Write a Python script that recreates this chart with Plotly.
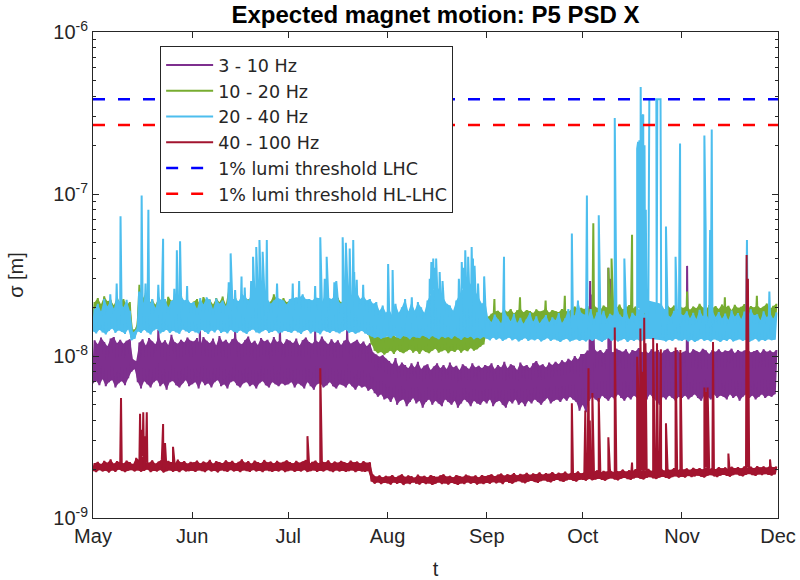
import datetime as dt
import plotly.graph_objects as go

START = dt.datetime(2018, 5, 1)
END = dt.datetime(2018, 12, 1)

# Daily readings in nm: *_lo taken at 00:00, *_hi at 12:00 (May 1 .. Nov 30).
# One row per month: May, Jun, Jul, Aug, Sep, Oct, Nov.
purple_lo = [
    6.8, 7.0, 6.6, 7.2, 6.5, 6.9, 7.1, 6.4, 6.8, 7.0, 6.6, 7.3, 8.0, 8.3, 6.9, 6.3, 7.0, 6.7, 6.4, 6.9, 7.1, 6.5, 6.8, 6.2, 6.9, 7.0, 6.6, 6.4, 6.8, 7.1, 6.5,
    6.7, 6.9, 6.3, 7.0, 6.6, 6.8, 6.4, 6.9, 7.1, 6.5, 6.7, 6.3, 6.9, 7.0, 6.6, 6.4, 6.8, 6.9, 6.5, 6.7, 6.3, 6.8, 7.0, 6.6, 6.4, 6.9, 6.7, 6.5, 6.8, 6.6,
    6.7, 6.9, 6.4, 6.8, 6.6, 6.3, 6.9, 6.5, 6.2, 6.7, 6.8, 6.4, 6.6, 6.9, 6.5, 6.3, 6.7, 6.6, 6.4, 6.8, 6.5, 6.2, 6.6, 6.4, 6.5, 6.1, 6.3, 5.9, 5.6, 5.8, 5.4,
    5.5, 5.2, 5.6, 5.0, 5.3, 5.4, 4.9, 5.2, 5.5, 5.1, 5.3, 4.8, 5.2, 5.4, 5.0, 5.3, 5.1, 4.9, 5.4, 5.2, 5.0, 5.3, 4.8, 5.1, 5.4, 5.2, 4.9, 5.3, 5.1, 5.0, 5.3,
    5.1, 5.4, 4.9, 5.2, 5.3, 5.0, 4.8, 5.3, 5.1, 5.4, 5.0, 5.2, 4.9, 5.3, 5.1, 5.4, 5.2, 5.0, 5.3, 5.5, 5.1, 5.3, 5.4, 5.2, 5.5, 5.3, 5.6, 5.4, 5.2, 4.6,
    5.0, 4.5, 5.3, 5.6, 5.4, 5.2, 5.7, 5.5, 5.3, 5.6, 5.4, 5.8, 5.5, 5.3, 5.6, 5.4, 5.7, 5.5, 5.2, 5.6, 5.4, 5.8, 5.5, 5.3, 5.0, 5.6, 5.4, 5.7, 5.5, 5.3, 5.6,
    5.5, 5.7, 5.4, 5.6, 5.8, 5.5, 5.3, 5.7, 5.6, 5.4, 5.8, 5.5, 5.7, 5.6, 5.4, 5.8, 5.5, 5.7, 5.3, 5.6, 5.8, 5.5, 5.7, 5.4, 5.6, 5.8, 5.5, 5.7, 5.6, 5.8,
]
purple_hi = [
    12.5, 11.8, 13.0, 12.2, 11.5, 12.8, 13.1, 12.0, 12.6, 11.9, 12.4, 12.7, 9.5, 9.3, 12.1, 12.7, 11.6, 12.9, 12.3, 11.8, 13.2, 12.0, 12.5, 11.7, 13.5, 12.2, 11.9, 12.6, 12.1, 13.0, 12.4,
    12.3, 12.9, 11.7, 13.1, 12.4, 12.0, 12.8, 11.6, 13.3, 12.2, 12.6, 11.9, 12.7, 13.0, 12.1, 11.8, 12.5, 13.2, 12.0, 12.4, 11.7, 12.9, 12.3, 12.6, 11.9, 13.1, 12.2, 12.5, 11.8, 12.7,
    12.4, 12.0, 12.8, 11.6, 12.5, 13.0, 12.2, 11.9, 12.6, 12.1, 13.2, 12.3, 11.8, 12.7, 12.0, 12.5, 11.7, 12.4, 12.8, 11.9, 12.2, 12.6, 11.8, 12.3, 11.5, 12.0, 10.5, 10.2, 9.9, 10.1, 9.6,
    9.3, 8.9, 9.7, 8.6, 9.1, 8.8, 8.4, 9.0, 8.5, 9.2, 8.3, 8.7, 8.9, 8.2, 8.6, 9.0, 8.4, 8.8, 8.3, 9.1, 8.5, 8.7, 8.2, 8.9, 8.6, 8.3, 9.0, 8.5, 8.7, 8.4, 8.8,
    8.6, 9.0, 8.3, 8.8, 8.5, 9.2, 8.4, 8.9, 8.7, 8.2, 9.1, 8.6, 8.8, 8.4, 9.0, 9.3, 8.7, 8.9, 8.5, 9.1, 8.8, 9.2, 8.9, 9.4, 9.1, 9.6, 9.3, 10.0, 9.5, 10.3,
    10.3, 10.8, 10.5, 11.2, 10.6, 10.9, 10.4, 11.0, 10.7, 10.5, 11.1, 10.8, 10.6, 11.0, 10.3, 10.9, 10.7, 11.2, 10.5, 10.8, 10.4, 11.0, 10.6, 10.9, 10.3, 10.8, 11.1, 10.5, 10.7, 10.9, 10.4,
    10.6, 10.9, 10.4, 11.0, 10.7, 10.5, 11.1, 10.8, 10.3, 10.9, 10.6, 11.0, 10.5, 10.8, 10.7, 11.1, 10.4, 10.9, 10.6, 10.8, 11.0, 10.5, 10.7, 10.9, 10.4, 11.0, 10.6, 10.8, 10.5, 10.9,
]
purple_spike_day = [20.4, 33.4, 44.4, 58.4, 69.4, 79.4, 155.3, 156.0, 161.0, 161.5, 185.6]
purple_spike_nm = [14.5, 14.8, 14.2, 14.6, 14.3, 14.9, 29, 24, 35, 30, 36]

green_lo = [
    15.5, 16.0, 15.2, 15.8, 16.3, 15.6, 15.9, 15.4, 16.1, 15.7, 15.3, 15.8, 13.0, 13.2, 15.6, 16.0, 15.4, 15.9, 15.5, 16.2, 15.7, 15.3, 15.8, 16.0, 15.5, 15.9, 15.2, 15.7, 16.1, 15.4, 15.8,
    15.6, 15.9, 15.3, 16.0, 15.5, 15.8, 15.2, 15.7, 16.1, 15.4, 15.9, 15.6, 15.3, 15.8, 16.0, 15.5, 15.7, 15.2, 15.9, 15.6, 15.4, 15.8, 16.1, 15.5, 15.7, 15.3, 15.9, 15.6, 15.4, 15.8,
    15.5, 15.8, 15.3, 15.9, 15.6, 15.2, 15.7, 16.0, 15.4, 15.8, 15.5, 15.3, 15.9, 15.6, 15.2, 15.7, 15.4, 15.8, 15.5, 15.1, 15.6, 15.3, 14.9, 15.2, 14.6, 13.5, 11.8, 10.8, 10.4, 10.6, 10.2,
    10.5, 10.8, 10.3, 10.9, 10.6, 10.4, 10.7, 11.0, 10.5, 10.8, 10.3, 10.9, 10.6, 10.4, 10.8, 11.1, 10.5, 10.7, 10.9, 10.4, 10.8, 10.6, 11.0, 10.5, 10.9, 10.7, 11.2, 10.8, 11.0, 11.4, 11.8,
    13.5, 14.2, 14.8, 15.0, 14.6, 15.2, 14.9, 15.3, 14.7, 15.1, 15.4, 14.8, 15.2, 15.0, 14.6, 15.3, 14.9, 15.1, 15.5, 14.8, 15.2, 15.0, 14.7, 15.4, 15.1, 14.9, 15.3, 15.6, 15.0, 15.2,
    15.0, 15.3, 14.8, 15.4, 15.1, 14.9, 15.5, 15.2, 14.8, 15.3, 15.0, 15.4, 14.9, 15.2, 15.5, 15.0, 15.3, 14.8, 15.1, 15.4, 14.9, 15.2, 15.0, 15.5, 15.1, 14.8, 15.3, 15.0, 15.4, 14.9, 15.2,
    15.1, 15.4, 14.9, 15.2, 15.0, 15.5, 15.1, 14.8, 15.3, 15.0, 15.4, 14.9, 15.2, 15.1, 15.5, 14.8, 15.3, 15.0, 15.2, 15.4, 14.9, 15.1, 15.3, 15.0, 15.5, 14.9, 15.2, 15.4, 15.0, 15.3,
]
green_hi = [
    21.5, 22.8, 20.9, 23.4, 21.8, 22.2, 20.6, 23.0, 21.4, 22.5, 20.8, 21.5, 14.5, 14.8, 27.5, 22.6, 24.5, 21.0, 22.3, 20.7, 22.9, 21.6, 20.5, 23.2, 21.9, 22.4, 20.9, 23.6, 21.3, 22.0, 20.8,
    21.7, 22.5, 20.6, 23.1, 21.9, 22.3, 20.8, 22.8, 21.5, 23.3, 20.9, 27.0, 21.6, 22.7, 20.7, 23.0, 21.8, 22.4, 20.5, 21.9, 23.2, 21.4, 22.6, 20.8, 21.7, 24.0, 22.3, 21.0, 22.8, 21.5,
    22.0, 21.3, 22.7, 20.9, 23.1, 21.6, 22.4, 20.8, 21.9, 22.6, 21.2, 23.0, 21.7, 22.2, 20.6, 22.9, 21.4, 22.5, 20.8, 21.8, 22.3, 21.1, 20.7, 21.5, 20.4, 18.5, 15.0, 13.6, 13.2, 13.5, 13.0,
    13.3, 13.8, 13.1, 14.0, 13.5, 13.2, 14.3, 13.7, 13.4, 14.6, 13.9, 13.3, 14.1, 13.6, 13.8, 14.4, 13.5, 13.9, 14.2, 13.6, 14.8, 14.0, 13.7, 14.5, 15.2, 14.1, 15.5, 14.8, 15.6, 16.2, 16.8,
    17.5, 18.2, 18.8, 19.0, 18.4, 19.3, 18.7, 19.5, 18.3, 19.1, 19.6, 18.6, 19.2, 18.9, 18.4, 19.4, 18.8, 19.0, 19.7, 18.5, 19.2, 18.9, 18.6, 19.5, 19.1, 18.7, 19.3, 20.2, 19.4, 19.8,
    19.5, 20.3, 19.0, 20.6, 19.8, 19.3, 20.5, 19.9, 19.2, 20.4, 19.7, 20.8, 19.4, 20.1, 20.6, 19.5, 20.2, 19.1, 19.9, 20.7, 19.3, 20.0, 19.6, 20.9, 19.8, 19.2, 20.4, 19.7, 20.5, 19.4, 20.1,
    19.8, 20.5, 19.3, 20.2, 19.7, 21.0, 19.9, 19.4, 20.6, 19.8, 20.3, 19.5, 20.8, 19.9, 20.4, 19.2, 20.7, 19.8, 20.1, 20.9, 19.5, 20.3, 19.9, 20.6, 19.7, 20.2, 21.1, 19.6, 20.4, 21.0,
]
green_spike_day = [96.4, 104.4, 110.4, 125.4, 133.4, 141.4, 147.4,
                   156.3, 161.0, 162.0, 168.4, 185.6, 197.4, 207.4]
green_spike_nm = [16.5, 17.0, 16.8, 22.5, 23.0, 22.0, 23.5,
                  66, 35, 40, 56, 25, 23.0, 23.5]

cyan_lo = [
    14.2, 13.8, 14.5, 14.0, 13.6, 14.3, 14.8, 13.9, 14.4, 14.1, 13.7, 14.6, 12.5, 12.8, 14.2, 13.9, 14.5, 14.0, 13.6, 14.4, 14.7, 13.8, 14.1, 14.5, 13.9, 14.3, 14.0, 13.7, 14.6, 14.2, 13.9,
    14.3, 14.0, 13.8, 14.5, 14.1, 13.7, 14.4, 14.0, 14.6, 13.9, 14.2, 13.8, 14.5, 14.1, 13.9, 14.4, 14.0, 13.7, 14.3, 14.6, 14.0, 13.8, 14.2, 14.5, 13.9, 14.1, 14.4, 13.8, 14.0, 14.3,
    14.1, 13.9, 14.4, 14.0, 13.7, 14.3, 14.5, 13.8, 14.2, 14.0, 13.6, 14.4, 14.1, 13.9, 14.3, 14.0, 13.8, 14.2, 14.5, 13.9, 14.1, 13.7, 14.0, 14.3, 13.8, 13.5, 13.2, 12.9, 13.1, 12.8, 13.0,
    13.2, 12.9, 13.4, 13.0, 12.8, 13.3, 13.1, 12.7, 13.2, 13.0, 12.9, 13.4, 13.1, 12.8, 13.3, 13.0, 12.7, 13.2, 12.9, 13.1, 12.8, 13.3, 13.0, 12.6, 13.1, 12.9, 13.2, 12.7, 13.0, 12.8, 13.1,
    12.8, 12.5, 13.0, 12.6, 12.9, 12.4, 12.7, 13.0, 12.5, 12.8, 12.3, 12.6, 12.9, 12.4, 12.7, 12.5, 12.8, 12.3, 12.6, 12.9, 12.4, 12.7, 12.5, 12.2, 12.6, 12.8, 12.3, 12.5, 12.7, 12.4,
    12.6, 12.3, 12.7, 12.4, 12.8, 12.5, 12.2, 12.6, 12.9, 12.4, 12.7, 12.3, 12.5, 12.8, 12.2, 12.6, 12.4, 12.7, 12.3, 12.5, 12.8, None, None, None, None, 12.5, 12.3, 12.6, 12.4, 12.8, 12.5,
    12.4, 12.7, 12.3, 12.6, 12.2, 12.5, 12.8, 12.4, 12.6, 12.3, 12.7, 12.5, 12.2, 12.6, 12.4, 12.8, 12.3, 12.5, 12.7, 12.4, 12.6, 12.2, 12.5, 12.8, 12.3, 12.6, 12.4, 12.7, 12.5, 12.6,
]
cyan_hi = [
    19.5, 21.0, 18.8, 22.5, 20.2, 22.0, 19.6, 23.0, 21.3, 20.0, 22.2, 19.0, 14.0, 14.5, 22.0, 21.0, 23.0, 20.5, 22.5, 19.8, 23.5, 21.5, 22.5, 20.0, 21.8, 23.0, 21.2, 23.5, 22.0, 22.5, 21.2,
    21.5, 19.6, 22.8, 20.8, 23.0, 22.2, 19.5, 22.6, 21.0, 22.0, 20.3, 23.5, 22.5, 22.5, 21.8, 24.0, 23.5, 22.0, 24.0, 22.5, 25.0, 23.5, 22.0, 22.5, 21.0, 22.0, 23.0, 22.5, 22.0, 20.8,
    22.5, 22.8, 23.0, 23.0, 24.0, 22.4, 22.5, 22.0, 23.0, 22.8, 21.5, 24.0, 23.0, 22.5, 23.5, 22.0, 21.0, 23.5, 24.5, 23.0, 25.0, 24.5, 22.5, 23.5, 22.0, 22.5, 21.0, 21.5, 19.0, 20.5, 18.5,
    19.5, 17.8, 21.0, 18.5, 20.0, 22.5, 18.8, 21.5, 19.0, 21.5, 20.0, 18.5, 22.0, 24.0, 26.0, 27.0, 25.0, 23.0, 21.0, 20.5, 19.0, 22.0, 24.0, 26.0, 28.0, 27.0, 29.0, 25.0, 23.0, 21.0, 22.0,
    17.0, 16.2, 18.0, 16.8, 15.9, 19.0, 17.5, 16.4, 18.2, 16.0, 17.2, 15.8, 16.9, 18.5, 16.3, 17.6, 15.9, 16.8, 17.9, 16.1, 17.3, 16.6, 18.4, 16.0, 17.1, 19.5, 16.5, 17.8, 22.0, 18.5,
    18.0, 17.2, 19.5, 16.8, 18.6, 17.5, 19.0, 16.9, 18.2, 17.7, 20.5, 18.0, 17.3, 19.2, 16.8, 18.5, 17.6, 19.8, 17.0, 18.4, 22.0, None, None, None, 21.0, 19.5, 18.0, 17.4, 19.0, 16.9, 18.3,
    17.8, 18.9, 17.1, 18.5, 16.9, 19.3, 17.6, 18.2, 16.8, 19.0, 17.4, 18.7, 17.0, 18.3, 16.7, 19.1, 17.5, 18.4, 16.9, 18.8, 17.2, 19.4, 17.8, 18.1, 16.6, 18.9, 17.3, 18.5, 17.0, 18.6,
]
cyan_spike_day = [5.4, 7.4, 8.6, 14.4, 15.2, 16.4, 17.3, 20.4, 21.9, 25.4, 26.2, 27.2, 29.4,
                  42.4, 43.0, 44.4, 46.4, 47.4, 49.4, 50.0, 51.0, 51.4, 52.0, 52.4, 53.0, 54.3, 57.5,
                  62.4, 64.4, 69.4, 71.0, 72.4, 73.0, 75.4, 76.0, 78.0, 79.0, 79.4, 80.2, 81.3, 81.6,
                  82.4, 84.4, 92.2, 93.6, 99.6,
                  105.2, 105.7, 106.3, 106.8, 107.2, 108.3, 109.2,
                  114.3, 115.2, 115.8, 116.3, 117.2, 118.3, 118.7, 119.2, 120.3, 122.2, 128.4,
                  149.6, 154.3, 158.0, 163.0, 166.0, 170.0, 170.3, 170.7, 171.1, 171.5, 171.9,
                  172.3, 172.7, 173.8, 176.0, 176.1, 176.3, 177.3, 179.0, 182.0, 183.4,
                  191.0, 191.4, 192.8, 193.3, 204.3, 211.3]
cyan_spike_nm = [24, 28, 73, 25, 98, 28, 80, 27.5, 53, 26, 45, 51, 27,
                 28.5, 43, 25.5, 31, 26.5, 29, 41, 47, 33, 52, 27.5, 44, 52, 28,
                 28, 29, 27, 54, 30, 41, 28.5, 29, 54, 50, 31.5, 46, 52, 33,
                 29.5, 27.5, 37, 34, 23,
                 30, 38, 40, 35, 40, 33, 29,
                 30, 38, 35, 45, 41, 47, 40, 36, 28, 31, 41,
                 57, 98, 74, 295, 40, 190, 210, 215, 458, 300, 310,
                 200, 80, 385, 385, 18, 385, 385, 63, 41, 205,
                 230, 60, 60, 250, 52, 25]

red_lo = [
    1.95, 1.92, 1.98, 1.94, 1.96, 1.91, 1.97, 1.93, 1.99, 1.95, 1.92, 1.96, 1.98, 1.94, 1.97, 1.93, 1.95, 1.99, 1.92, 1.96, 1.94, 1.98, 1.91, 1.95, 1.97, 1.93, 1.96, 1.92, 1.98, 1.94, 1.95,
    1.96, 1.93, 1.97, 1.95, 1.92, 1.98, 1.94, 1.96, 1.91, 1.97, 1.95, 1.93, 1.98, 1.94, 1.96, 1.92, 1.97, 1.95, 1.93, 1.98, 1.94, 1.96, 1.92, 1.97, 1.95, 1.93, 1.96, 1.94, 1.98, 1.92,
    1.95, 1.97, 1.93, 1.96, 1.94, 1.98, 1.92, 1.95, 1.97, 1.93, 1.96, 1.94, 1.98, 1.95, 1.92, 1.97, 1.94, 1.96, 1.93, 1.95, 1.97, 1.92, 1.96, 1.94, 1.93, 1.95, 1.68, 1.63, 1.66, 1.62, 1.65,
    1.64, 1.61, 1.66, 1.63, 1.65, 1.60, 1.64, 1.62, 1.66, 1.63, 1.61, 1.65, 1.62, 1.64, 1.60, 1.63, 1.66, 1.62, 1.64, 1.61, 1.65, 1.63, 1.60, 1.64, 1.62, 1.66, 1.63, 1.65, 1.61, 1.64, 1.62,
    1.65, 1.63, 1.67, 1.64, 1.66, 1.62, 1.68, 1.65, 1.63, 1.67, 1.69, 1.66, 1.64, 1.68, 1.70, 1.67, 1.65, 1.69, 1.71, 1.68, 1.66, 1.70, 1.72, 1.69, 1.67, 1.71, 1.73, 1.70, 1.68, 1.72,
    1.72, 1.70, 1.74, 1.71, 1.73, 1.75, 1.72, 1.70, 1.74, 1.76, 1.73, 1.71, 1.75, 1.77, 1.74, 1.72, 1.76, 1.78, 1.75, 1.73, 1.77, 1.79, 1.76, 1.74, 1.78, 1.80, 1.77, 1.75, 1.79, 1.81, 1.78,
    1.80, 1.78, 1.82, 1.79, 1.81, 1.83, 1.80, 1.78, 1.82, 1.84, 1.81, 1.79, 1.83, 1.85, 1.82, 1.80, 1.84, 1.86, 1.83, 1.81, 1.85, 1.87, 1.84, 1.82, 1.86, 1.84, 1.87, 1.85, 1.83, 1.86,
]
red_hi = [
    2.18, 2.22, 2.15, 2.25, 2.19, 2.30, 2.16, 2.24, 2.20, 2.17, 2.26, 2.21, 2.15, 2.35, 2.28, 2.40, 2.22, 2.19, 2.27, 2.16, 2.23, 2.30, 2.18, 2.25, 2.21, 2.17, 2.29, 2.20, 2.24, 2.16, 2.22,
    2.20, 2.26, 2.17, 2.23, 2.19, 2.28, 2.16, 2.24, 2.21, 2.18, 2.27, 2.20, 2.25, 2.17, 2.22, 2.30, 2.19, 2.24, 2.16, 2.26, 2.21, 2.18, 2.28, 2.20, 2.23, 2.17, 2.25, 2.19, 2.22, 2.27,
    2.21, 2.17, 2.25, 2.19, 2.23, 2.28, 2.16, 2.22, 2.26, 2.18, 2.24, 2.20, 2.27, 2.17, 2.23, 2.19, 2.25, 2.21, 2.18, 2.26, 2.20, 2.23, 2.17, 2.24, 2.19, 2.21, 1.85, 1.80, 1.83, 1.78, 1.82,
    1.80, 1.84, 1.78, 1.82, 1.86, 1.79, 1.83, 1.81, 1.77, 1.85, 1.80, 1.82, 1.78, 1.84, 1.81, 1.79, 1.83, 1.86, 1.80, 1.82, 1.78, 1.84, 1.81, 1.79, 1.85, 1.82, 1.80, 1.83, 1.78, 1.84, 1.81,
    1.83, 1.86, 1.81, 1.85, 1.88, 1.82, 1.86, 1.84, 1.89, 1.83, 1.87, 1.85, 1.90, 1.84, 1.88, 1.86, 1.91, 1.85, 1.89, 1.87, 1.92, 1.86, 1.90, 1.88, 1.93, 1.87, 1.91, 1.89, 1.94, 1.88,
    1.92, 1.95, 1.90, 1.94, 1.97, 1.91, 1.95, 1.93, 1.98, 1.92, 1.96, 1.94, 1.99, 1.93, 1.97, 1.95, 2.00, 1.94, 1.98, 1.96, 2.01, 1.95, 1.99, 1.97, 2.02, 1.96, 2.00, 1.98, 2.03, 1.97, 2.01,
    1.99, 2.02, 1.98, 2.04, 2.00, 2.03, 1.99, 2.05, 2.01, 2.04, 2.00, 2.06, 2.02, 2.05, 2.01, 2.07, 2.03, 2.06, 2.02, 2.08, 2.04, 2.07, 2.03, 2.09, 2.05, 2.08, 2.04, 2.10, 2.06, 2.08,
]
red_spike_day = [8.75, 14.7, 15.2, 15.7, 16.3, 16.8, 21.9, 22.5, 25.0, 67.0, 71.0,
                 149.6, 153.8, 154.8, 155.2, 156.0, 158.0, 161.0, 163.0, 168.4,
                 170.0, 170.4, 171.0, 171.6, 172.2, 172.6, 175.0, 176.2, 177.4, 179.0,
                 182.0, 183.5, 191.0, 191.5, 192.0, 193.7, 198.5, 204.2, 204.6, 211.5]
red_spike_nm = [5.5, 4.4, 3.5, 4.5, 3.2, 4.5, 3.8, 2.9, 2.75, 3.2, 8.4,
                5.1, 4.6, 8.4, 4.0, 5.9, 5.5, 3.15, 15.0, 2.2,
                9.9, 6.0, 14.8, 8.0, 17.2, 12.0, 12.9, 12.0, 11.0, 3.85,
                11.3, 10.9, 6.4, 6.0, 6.4, 12.2, 2.5, 42.0, 30.0, 2.3]

# 1% luminosity-loss thresholds [m]
thr_lhc = 3.85e-7
thr_hllhc = 2.67e-7

month_ticks = ["2018-05-01", "2018-06-01", "2018-07-01", "2018-08-01",
               "2018-09-01", "2018-10-01", "2018-11-01", "2018-12-01"]
month_labels = ["May", "Jun", "Jul", "Aug", "Sep", "Oct", "Nov", "Dec"]

N_DAYS = (END - START).days
for arr in (purple_lo, purple_hi, green_lo, green_hi, cyan_lo, cyan_hi, red_lo, red_hi):
    assert len(arr) == N_DAYS, len(arr)


def when(t):
    return START + dt.timedelta(days=t)


def build_line(lo, hi, spike_day, spike_nm):
    """Zig-zag through the daily low/high readings, with the spikes merged in."""
    pts = []
    for d, (a, b) in enumerate(zip(lo, hi)):
        if a is not None:
            pts.append((d, a))
        if b is not None:
            pts.append((d + 0.5, b))
    pts += list(zip(spike_day, spike_nm))
    pts.sort(key=lambda p: p[0])
    return [when(t) for t, _ in pts], [v * 1e-9 for _, v in pts]


def build_band(lo, hi):
    """Closed outline: lows left to right, then highs right to left."""
    low = [(d, a) for d, a in enumerate(lo) if a is not None]
    high = [(d + 0.5, b) for d, b in enumerate(hi) if b is not None]
    pts = low + high[::-1]
    return [when(t) for t, _ in pts], [v * 1e-9 for _, v in pts]


series = [
    ("3 - 10 Hz", "#7E2F8E", purple_lo, purple_hi, purple_spike_day, purple_spike_nm),
    ("10 - 20 Hz", "#77AC30", green_lo, green_hi, green_spike_day, green_spike_nm),
    ("20 - 40 Hz", "#4DBEEE", cyan_lo, cyan_hi, cyan_spike_day, cyan_spike_nm),
    ("40 - 100 Hz", "#A2142F", red_lo, red_hi, red_spike_day, red_spike_nm),
]

fig = go.Figure()
for name, color, lo, hi, sd, sv in series:
    bx, by = build_band(lo, hi)
    fig.add_trace(go.Scatter(x=bx, y=by, mode="lines", fill="toself",
                             fillcolor=color, line=dict(width=0, color=color),
                             showlegend=False, hoverinfo="skip"))
    x, y = build_line(lo, hi, sd, sv)
    fig.add_trace(go.Scatter(x=x, y=y, mode="lines", name=name,
                             line=dict(color=color, width=2), hoverinfo="skip"))

for name, color, val in [("1% lumi threshold LHC", "#0000FF", thr_lhc),
                         ("1% lumi threshold HL-LHC", "#FF0000", thr_hllhc)]:
    fig.add_trace(go.Scatter(x=[START, END], y=[val, val], mode="lines", name=name,
                             line=dict(color=color, width=2.5, dash="12px,13px"),
                             hoverinfo="skip"))

axis_color = "#262626"
major_y = [1e-9, 1e-8, 1e-7, 1e-6]
major_y_text = ["10<sup>-9</sup>", "10<sup>-8</sup>", "10<sup>-7</sup>", "10<sup>-6</sup>"]
minor_y = [k * 10.0 ** e for e in (-9, -8, -7) for k in range(2, 10)]

fig.update_layout(
    width=800, height=580, autosize=False,
    margin=dict(l=93, r=22, t=32, b=62),
    paper_bgcolor="white", plot_bgcolor="white",
    font=dict(family="Liberation Sans, Arial, sans-serif", size=20, color=axis_color),
    title=dict(text="<b>Expected magnet motion: P5 PSD X</b>",
               x=0.5, xref="paper", xanchor="center",
               y=1 - 15 / 580, yref="container", yanchor="middle",
               font=dict(size=24, color="black")),
    legend=dict(x=0.098, y=0.971, xanchor="left", yanchor="top",
                bgcolor="white", bordercolor=axis_color, borderwidth=1,
                font=dict(family="DejaVu Sans, sans-serif", size=17.5, color=axis_color),
                itemwidth=47, tracegroupgap=0),
    xaxis=dict(type="date", range=[START, END], automargin=False,
               tickmode="array", tickvals=month_ticks, ticktext=month_labels,
               ticks="inside", ticklen=6, tickcolor=axis_color,
               showline=True, linecolor=axis_color, linewidth=1, mirror="ticks",
               showgrid=False, zeroline=False,
               title=dict(text="t", standoff=16, font=dict(size=20))),
    yaxis=dict(type="log", range=[-9, -6], automargin=False,
               tickmode="array", tickvals=major_y, ticktext=major_y_text,
               ticks="inside", ticklen=6, tickcolor=axis_color,
               minor=dict(tickmode="array", tickvals=minor_y, ticks="inside",
                          ticklen=3, tickcolor=axis_color),
               showline=True, linecolor=axis_color, linewidth=1, mirror="ticks",
               showgrid=False, zeroline=False,
               title=dict(text="σ [m]", standoff=24, font=dict(size=20))),
)

fig.write_html("out.html")
